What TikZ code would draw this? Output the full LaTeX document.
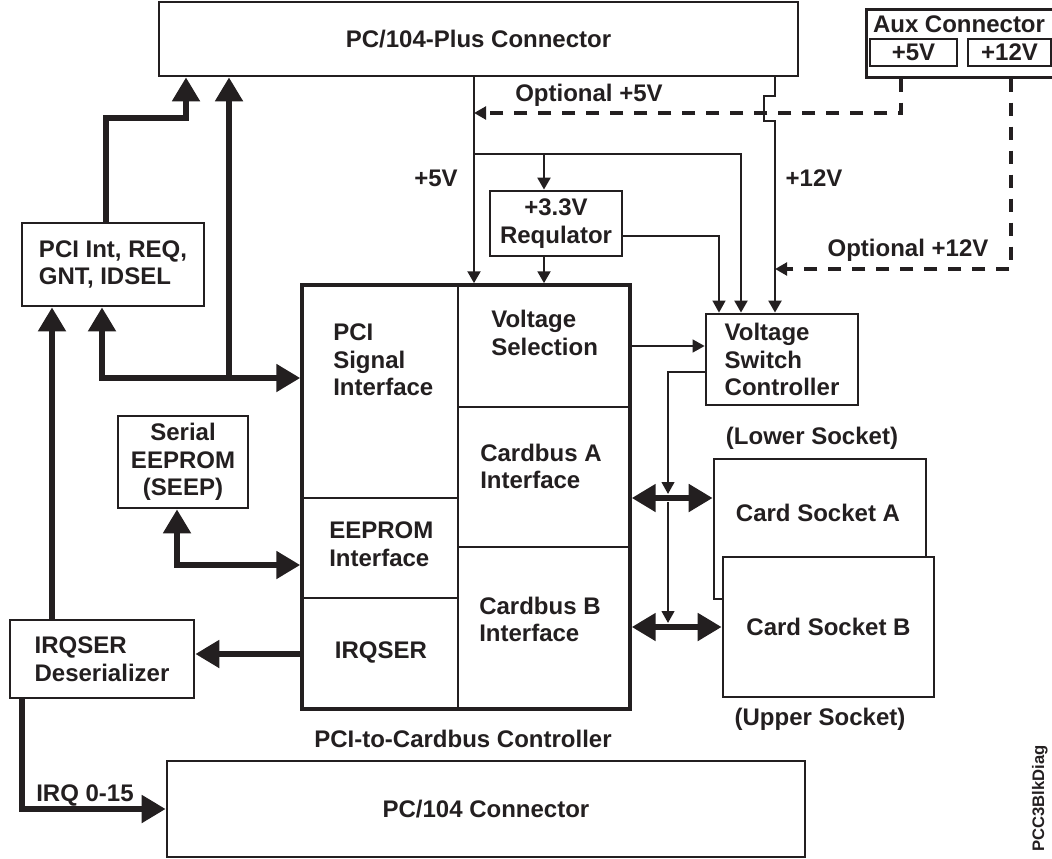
\documentclass[tikz,border=0pt]{standalone}
\usepackage{fontspec}
\setmainfont{Liberation Sans}
\usetikzlibrary{arrows.meta,positioning,calc}
\definecolor{ink}{HTML}{231F20}

\tikzset{
    dims/.style n args={2}{minimum width=#1*0.75pt, minimum height=#2*0.75pt},
    box/.style={rectangle, draw=ink, line width=2pt, fill=white, inner sep=0pt, align=center},
    lbl/.style={inner sep=0pt, align=center},
    txt/.style={inner sep=0pt, align=left, anchor=west},
    div/.style={draw=ink, line width=0.9pt},
    bigtip/.tip={Triangle[length=18pt, width=20pt]},
    smalltip/.tip={Triangle[length=9pt, width=9.5pt]},
    bus/.style={draw=ink, line width=4.5pt, -bigtip},
    dbus/.style={draw=ink, line width=4.5pt, bigtip-bigtip},
    pwr/.style={draw=ink, line width=2.2pt, -smalltip},
    sig/.style={draw=ink, line width=1.6pt, -smalltip},
    opt/.style={draw=ink, line width=2.8pt, dash pattern=on 10pt off 8pt, -smalltip}
}

\begin{document}
\begin{tikzpicture}[x=0.75pt, y=-0.75pt, text=ink,
    font=\fontsize{18}{20.6}\selectfont\bfseries]

\useasboundingbox (0,0) rectangle (1052,859);

% Connectors at top
\node[box, dims={639}{74}] (plus) at (478.5,39) {PC/104-Plus Connector};
\node[box, dims={191}{68}, anchor=north west] (aux) at (865,8) {};
\node[lbl] (auxname) at (959,24) {Aux Connector};
\node[box, dims={87}{27}] (aux5) at (913.5,52.5) {+5V};
\node[box, dims={83}{27}] (aux12) at (1009.5,52.5) {+12V};

% Power
\node[box, dims={132}{65}] (reg) at (556,223.5) {+3.3V\\Requlator};
\node[box, dims={152}{91}, align=left] (vsc) at (782,359.5) {Voltage\\Switch\\Controller};

% PCI-to-Cardbus controller
\node[box, dims={328}{424}, line width=2.6pt] (ctrl) at (466,497) {};
\draw[div] (458,0 |- ctrl.north) -- (458,0 |- ctrl.south);
\draw[div] (458,407) -- (ctrl.east |- 0,407);
\draw[div] (458,547) -- (ctrl.east |- 0,547);
\draw[div] (ctrl.west |- 0,498) -- (458,498);
\draw[div] (ctrl.west |- 0,598) -- (458,598);
\node[txt] (pcisig) at (333,360) {PCI\\Signal\\Interface};
\node[txt] (volsel) at (491,333) {Voltage\\Selection};
\node[txt] (cbA) at (480,466.5) {Cardbus A\\Interface};
\node[txt] (eeif) at (329,544) {EEPROM\\Interface};
\node[txt] (cbB) at (479,619.5) {Cardbus B\\Interface};
\node[lbl] (irqser) at (381,652) {IRQSER};
\node[lbl] (ctrlname) at (463,739) {PCI-to-Cardbus Controller};

% Left side blocks
\node[box, dims={182}{83}, align=left] (pciint) at (113,264.5) {PCI Int, REQ,\\GNT, IDSEL};
\node[box, dims={130}{92}] (seep) at (183,462) {Serial\\EEPROM\\(SEEP)};
\node[box, dims={184}{78}, align=left] (irqdes) at (102,659) {IRQSER\\Deserializer};
\node[box, dims={638}{96}] (pc104) at (486,809) {PC/104 Connector};

% Card sockets
\node[lbl] (lower) at (812,438) {(Lower Socket)};
\node[box, dims={212}{140}] (csa) at (820,529) {};
\node[lbl] (csaname) at (818,513) {Card Socket A};
\node[box, dims={211}{140}] (csb) at (828.5,627) {Card Socket B};
\node[lbl] (upper) at (820,719) {(Upper Socket)};

% Labels
\node[lbl] (opt5) at (589,95) {Optional +5V};
\node[lbl] (v5) at (436,178) {+5V};
\node[lbl] (v12) at (814,178) {+12V};
\node[lbl] (opt12) at (908,250) {Optional +12V};
\node[lbl] (irqlbl) at (85,795) {IRQ 0-15};
\node[inner sep=0pt, rotate=90, anchor=base west, font=\fontsize{12.5}{15}\selectfont\bfseries] (figid) at (1044,852) {PCC3BlkDiag};

% Junctions
\coordinate (tap5) at (474,154);
\coordinate (tapreg) at (544,154);
\coordinate (opt5end) at (474,113);
\coordinate (opt12end) at (775,269);
\coordinate (pcibus) at (229,378);
\coordinate (vscA) at (668,494);
\coordinate (vscB) at (668,623);

% PCI signals
\draw[bus] (106,0 |- pciint.north) |- (186,118) -- (186,0 |- plus.south);
\draw[bus] (pcibus) -- (229,0 |- plus.south);
\draw[dbus] (102,0 |- pciint.south) |- (ctrl.west |- pcibus);
\draw[bus] (52,0 |- irqdes.north) -- (52,0 |- pciint.south);
\draw[bus] (ctrl.west |- 0,654) -- (irqdes.east |- 0,654);
\draw[bus] (22,0 |- irqdes.south) |- (pc104.west);
\draw[dbus] (177,0 |- seep.south) |- (ctrl.west |- 0,565);

% Card buses
\draw[dbus] (ctrl.east |- 0,498) -- (csa.west |- 0,498);
\draw[dbus] (ctrl.east |- csb.west) -- (csb.west);
\draw[sig] (vsc.west |- 0,372) -| (vscA);
\draw[sig] (668,502) -- (vscB);
\draw[sig] (ctrl.east |- 0,346) -- (vsc.west |- 0,346);

% Power rails
\draw[pwr] (474,0 |- plus.south) -- (474,0 |- ctrl.north);
\draw[pwr] (tap5) -| (741,0 |- vsc.north);
\draw[pwr] (tapreg) -- (544,0 |- reg.north);
\draw[pwr] (544,0 |- reg.south) -- (544,0 |- ctrl.north);
\draw[sig] (reg.east |- 0,236) -| (719,0 |- vsc.north);
\draw[pwr] (775,0 |- plus.south) -- (775,96) -- (764,96) -- (764,121) -- (775,121) -- (775,0 |- vsc.north);
\draw[opt] (901,0 |- aux.south) |- (opt5end);
\draw[opt] (1011,0 |- aux.south) |- (opt12end);

\end{tikzpicture}
\end{document}
